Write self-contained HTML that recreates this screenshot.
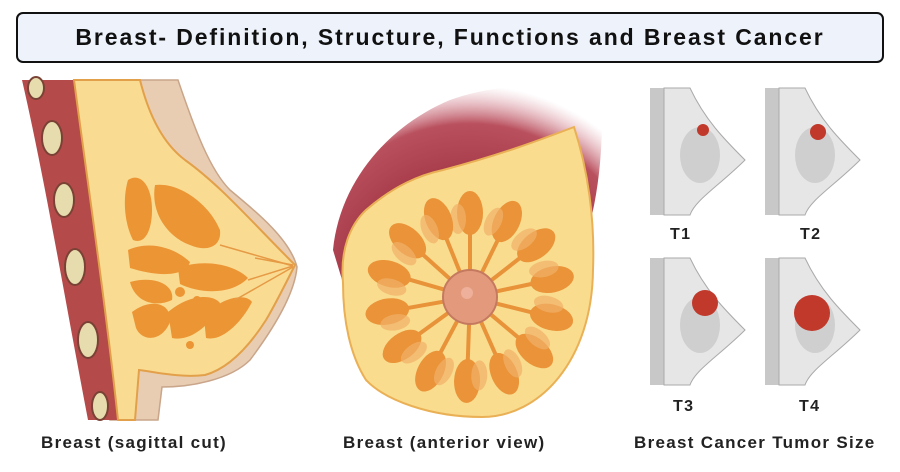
<!DOCTYPE html>
<html><head><style>
body{margin:0;width:900px;height:472px;background:#fff;overflow:hidden;font-family:"Liberation Sans",sans-serif;position:relative}
.title{position:absolute;left:16px;top:12px;width:864px;height:47px;border:2px solid #111;border-radius:7px;background:#eef3fb;text-align:center;line-height:47px;font-weight:bold;font-size:23px;letter-spacing:1.9px;color:#111}
.lbl{position:absolute;font-weight:bold;font-size:17px;letter-spacing:1.3px;color:#222;white-space:nowrap}
</style></head><body>
<div class="title">Breast- Definition, Structure, Functions and Breast Cancer</div>
<svg width="900" height="472" style="position:absolute;left:0;top:0">
<defs>
<radialGradient id="rg" cx="470" cy="300" r="215" gradientUnits="userSpaceOnUse"><stop offset=".6" stop-color="#a83c4a"/><stop offset=".82" stop-color="#b9505e"/><stop offset="1" stop-color="#e0a0aa" stop-opacity="0"/></radialGradient>
</defs>
<!-- sagittal skin -->
<path d="M120,80 L178,80 C195,130 210,170 230,190 C260,215 290,240 297,267 C295,290 280,320 250,360 C230,380 190,387 162,387 L158,420 L110,420 L74,80 Z" fill="#e9cdb2" stroke="#c9a58a" stroke-width="1.5"/>
<!-- chest wall -->
<path d="M22,80 L74,80 C90,200 105,300 125,420 L88,420 C65,300 45,180 22,80 Z" fill="#b54a4a"/>
<g fill="#e6dcae" stroke="#7a4235" stroke-width="2">
<ellipse cx="36" cy="88" rx="8" ry="11"/><ellipse cx="52" cy="138" rx="10" ry="17"/><ellipse cx="64" cy="200" rx="10" ry="17"/><ellipse cx="75" cy="267" rx="10" ry="18"/><ellipse cx="88" cy="340" rx="10" ry="18"/><ellipse cx="100" cy="406" rx="8" ry="14"/></g>
<!-- fat -->
<path d="M74,80 L140,80 C150,120 165,145 185,160 C220,185 250,220 295,265 C285,285 275,305 266,320 C250,345 230,368 205,375 C180,378 155,372 139,370 L135,420 L118,420 C105,300 90,200 74,80 Z" fill="#f9dc92" stroke="#e3a04a" stroke-width="2"/>
<g fill="#ec9535">
<path d="M128,180 C140,172 152,185 152,210 C152,230 145,245 133,240 C125,225 122,200 128,180Z"/>
<path d="M155,185 C180,182 210,205 220,230 C222,248 205,252 190,245 C170,238 150,215 155,185Z"/>
<path d="M128,250 C150,240 175,248 190,262 C185,278 155,276 130,268Z"/>
<path d="M130,282 C155,275 175,285 172,300 C155,308 135,302 130,282Z"/>
<path d="M178,268 C205,258 235,265 248,278 C232,295 200,294 180,284Z"/>
<path d="M132,312 C150,298 172,302 170,322 C162,342 142,342 136,328Z"/>
<path d="M168,312 C188,295 212,293 220,303 C212,325 190,342 172,338Z"/>
<path d="M204,318 C218,298 245,292 252,302 C242,322 222,342 206,338Z"/>
<circle cx="180" cy="292" r="5"/><circle cx="197" cy="300" r="4"/><circle cx="190" cy="345" r="4"/>
</g>
<g stroke="#e69a45" stroke-width="1.5" fill="none"><path d="M220,245 L293,266"/><path d="M248,280 L293,266"/><path d="M235,300 L293,267"/><path d="M255,258 L293,265"/></g>
<!-- anterior -->
<path d="M333,250 C340,180 390,125 450,100 C500,82 560,82 602,96 C603,140 600,180 592,215 C588,180 580,140 574,127 C540,140 500,160 443,172 C400,185 370,200 343,283 Z" fill="url(#rg)"/>
<path d="M343,283 C340,250 350,225 366,210 C395,185 420,175 443,170 C500,155 540,140 574,127 C588,170 595,220 593,270 C592,360 540,417 482,417 C430,417 385,400 366,380 C350,355 343,320 343,283 Z" fill="#f9dc8e" stroke="#eab056" stroke-width="2"/>
<g transform="translate(470,297)">
<g id="p"><path d="M0,-25 L0,-65" stroke="#e8923a" stroke-width="4"/><ellipse cx="0" cy="-84" rx="13" ry="22" fill="#ea9338"/><ellipse cx="-12" cy="-78" rx="8" ry="15" fill="#f1b06a" opacity=".7"/></g>
<use href="#p" transform="rotate(26)"/><use href="#p" transform="rotate(52)"/><use href="#p" transform="rotate(78)"/><use href="#p" transform="rotate(104)"/><use href="#p" transform="rotate(130)"/><use href="#p" transform="rotate(156)"/><use href="#p" transform="rotate(182)"/><use href="#p" transform="rotate(208)"/><use href="#p" transform="rotate(234)"/><use href="#p" transform="rotate(260)"/><use href="#p" transform="rotate(286)"/><use href="#p" transform="rotate(312)"/><use href="#p" transform="rotate(338)"/>
<circle r="27" fill="#e39a7c" stroke="#c57a60" stroke-width="2"/>
<circle cx="-3" cy="-4" r="6" fill="#eeb09a"/>
</g>
<!-- tumor panels -->
<g id="b">
<rect x="650" y="88" width="14" height="127" fill="#c8c8c8"/>
<path d="M664,88 L690,88 C705,120 725,140 745,160 C720,185 695,200 690,215 L664,215 Z" fill="#e6e6e6" stroke="#aaa"/>
<ellipse cx="700" cy="155" rx="20" ry="28" fill="#cfcfcf"/>
</g>
<use href="#b" transform="translate(115,0)"/>
<use href="#b" transform="translate(0,170)"/>
<use href="#b" transform="translate(115,170)"/>
<g fill="#c0392b"><circle cx="703" cy="130" r="6"/><circle cx="818" cy="132" r="8"/><circle cx="705" cy="303" r="13"/><circle cx="812" cy="313" r="18"/></g>
</svg>
<div class="lbl" style="left:41px;top:433px">Breast (sagittal cut)</div>
<div class="lbl" style="left:343px;top:433px">Breast (anterior view)</div>
<div class="lbl" style="left:634px;top:433px">Breast Cancer Tumor Size</div>
<div class="lbl" style="left:670px;top:226px;font-size:16px">T1</div>
<div class="lbl" style="left:800px;top:226px;font-size:16px">T2</div>
<div class="lbl" style="left:673px;top:398px;font-size:16px">T3</div>
<div class="lbl" style="left:799px;top:398px;font-size:16px">T4</div>
</body></html>
